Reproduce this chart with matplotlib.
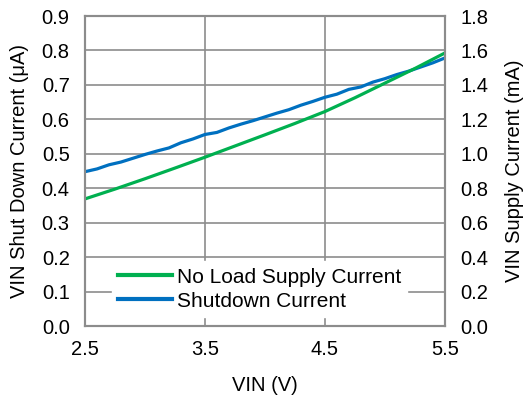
import matplotlib
matplotlib.use("Agg")
import matplotlib.pyplot as plt
import numpy as np

plt.rcParams['font.family'] = ['Liberation Sans', 'DejaVu Sans']

# shutdown current (uA), left axis
vin_sd = [2.5, 2.6, 2.7, 2.8, 2.9, 3.0, 3.1, 3.2, 3.3, 3.4, 3.5, 3.6, 3.7, 3.8, 3.9, 4.0,
          4.1, 4.2, 4.3, 4.4, 4.5, 4.6, 4.7, 4.8, 4.9, 5.0, 5.1, 5.2, 5.3, 5.4, 5.5]
i_sd = [0.448, 0.456, 0.468, 0.476, 0.487, 0.498, 0.508, 0.517, 0.532, 0.543, 0.556,
        0.562, 0.575, 0.586, 0.596, 0.607, 0.618, 0.628, 0.641, 0.652, 0.664, 0.673,
        0.687, 0.694, 0.708, 0.718, 0.730, 0.740, 0.752, 0.764, 0.778]

# no load supply current (mA), right axis
vin_nl = [2.5, 2.75, 3.0, 3.25, 3.5, 3.75, 4.0, 4.25, 4.5, 4.75, 5.0, 5.25, 5.5]
i_nl = [0.738, 0.795, 0.855, 0.917, 0.98, 1.045, 1.11, 1.176, 1.245, 1.325, 1.41, 1.495, 1.585]

x_ticks = [2.5, 3.5, 4.5, 5.5]
grey = '#8c8c8c'
tick_fs = 14.5
label_fs = 14.5
leg_fs = 15

fig = plt.figure(figsize=(5.26, 4.0), dpi=100)
ax = fig.add_axes([0.1616, 0.185, 0.684, 0.775])
ax2 = ax.twinx()

l1, = ax.plot(vin_sd, i_sd, color='#0070C0', lw=2.3, label='Shutdown Current')
l2, = ax2.plot(vin_nl, i_nl, color='#00B050', lw=2.3, label='No Load Supply Current')

ax.set_xlim(2.5, 5.5)
ax.set_ylim(0, 0.9)
ax2.set_ylim(0, 1.8)
ax.set_xticks(x_ticks)
ax.set_yticks(np.arange(0, 0.91, 0.1))
ax2.set_yticks(np.arange(0, 1.81, 0.2))
ax.yaxis.set_major_formatter(plt.FormatStrFormatter('%.1f'))
ax2.yaxis.set_major_formatter(plt.FormatStrFormatter('%.1f'))
ax.xaxis.set_major_formatter(plt.FormatStrFormatter('%.1f'))

ax.grid(True, color=grey, lw=1.2)
for a in (ax, ax2):
    for s in a.spines.values():
        s.set_color(grey)
        s.set_linewidth(1.5)
    a.tick_params(length=0, labelsize=tick_fs, pad=11)
ax.tick_params(axis='x', pad=10)

ax.set_xlabel('VIN (V)', fontsize=label_fs, labelpad=12)
ax.set_ylabel('VIN Shut Down Current (μA)', fontsize=label_fs, labelpad=9)
ax2.set_ylabel('VIN Supply Current (mA)', fontsize=label_fs, labelpad=12)

leg = ax2.legend(handles=[l2, l1], loc='lower left', bbox_to_anchor=(0.075, 0.029),
                 fontsize=leg_fs, frameon=True, framealpha=1, facecolor='white',
                 edgecolor='white', fancybox=False, handlelength=2.6,
                 handletextpad=0.2, borderpad=0.3, labelspacing=0.25, borderaxespad=0)
for h in leg.get_lines():
    h.set_linewidth(3)

fig.savefig('out.png', dpi=100)
